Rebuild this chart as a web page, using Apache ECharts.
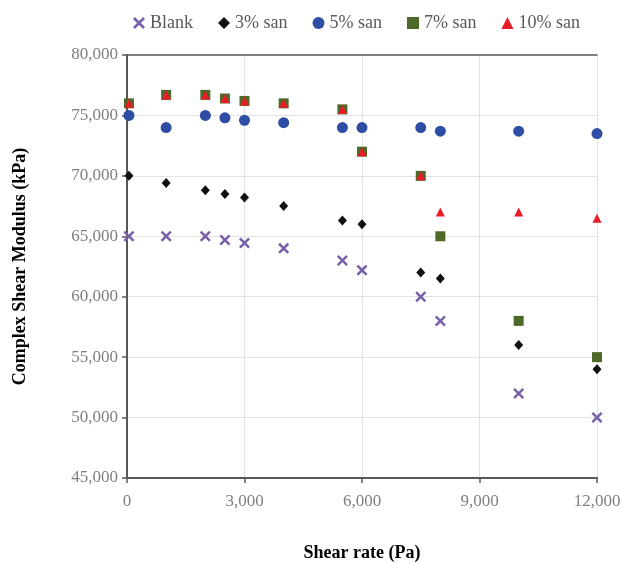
<!DOCTYPE html>
<html><head><meta charset="utf-8">
<script src="https://cdn.jsdelivr.net/npm/echarts@6/dist/echarts.min.js"></script>
<style>html,body{margin:0;padding:0;background:#fff}#c{width:622px;height:563px}</style>
</head><body><div id="c"></div>
<script>
var shearRate = [50, 1000, 2000, 2500, 3000, 4000, 5500, 6000, 7500, 8000, 10000, 12000];
var blank   = [65000, 65000, 65000, 64700, 64450, 64000, 63000, 62200, 60000, 58000, 52000, 50000];
var san3    = [70000, 69400, 68800, 68500, 68200, 67500, 66300, 66000, 62000, 61500, 56000, 54000];
var san5    = [75000, 74000, 75000, 74800, 74600, 74400, 74000, 74000, 74000, 73700, 73700, 73500];
var san7    = [76000, 76700, 76700, 76400, 76200, 76000, 75500, 72000, 70000, 65000, 58000, 55000];
var san10   = [76000, 76700, 76700, 76400, 76200, 76000, 75500, 72000, 70000, 67000, 67000, 66500];
var seriesNames = ['Blank', '3% san', '5% san', '7% san', '10% san'];
var xTicks = [0, 3000, 6000, 9000, 12000];
var yTicks = [45000, 50000, 55000, 60000, 65000, 70000, 75000, 80000];

function pairs(ys){ return shearRate.map(function(x,i){ return [x, ys[i]]; }); }
var FONT = 'Liberation Serif';
var xPath = 'path://M0,1.6L1.6,0L5,3.4L8.4,0L10,1.6L6.6,5L10,8.4L8.4,10L5,6.6L1.6,10L0,8.4L3.4,5Z';
var fmt = function(v){ return Number(v).toLocaleString('en-US'); };
var AX = '#595959';

var chart = echarts.init(document.getElementById('c'));
chart.setOption({
  animation: false,
  legend: {
    top: 9, left: 128,
    itemGap: 25, itemWidth: 12, itemHeight: 12,
    textStyle: {fontFamily: FONT, fontSize: 18, color: '#595959'},
    data: seriesNames
  },
  grid: {left: 127, right: 25, top: 55, bottom: 85, outerBoundsMode: 'none', containLabel: false},
  xAxis: [{
    type: 'value', min: xTicks[0], max: xTicks[xTicks.length-1], interval: 3000,
    name: 'Shear rate (Pa)', nameLocation: 'middle', nameGap: 66,
    nameTextStyle: {fontFamily: FONT, fontSize: 18, fontWeight: 'bold', color: '#000'},
    axisLine: {lineStyle: {color: AX, width: 2}},
    axisTick: {show: true, length: 5, lineStyle: {color: AX, width: 1.5}},
    axisLabel: {fontFamily: FONT, fontSize: 17, color: '#7f7f7f', margin: 15, formatter: fmt},
    splitLine: {show: true, lineStyle: {color: '#e2e2e2', width: 1}}
  }, {
    type: 'value', position: 'top', min: xTicks[0], max: xTicks[xTicks.length-1], interval: 3000,
    axisLine: {show: true, lineStyle: {color: AX, width: 1.5}},
    axisTick: {show: false}, axisLabel: {show: false}, splitLine: {show: false}
  }],
  yAxis: [{
    type: 'value', min: yTicks[0], max: yTicks[yTicks.length-1], interval: 5000,
    name: 'Complex Shear Modulus (kPa)', nameLocation: 'middle', nameGap: 98,
    nameTextStyle: {fontFamily: FONT, fontSize: 18, fontWeight: 'bold', color: '#000'},
    axisLine: {lineStyle: {color: AX, width: 2}},
    axisTick: {show: true, length: 5, lineStyle: {color: AX, width: 1.5}},
    axisLabel: {fontFamily: FONT, fontSize: 17, color: '#7f7f7f', margin: 9, formatter: fmt},
    splitLine: {show: true, lineStyle: {color: '#e2e2e2', width: 1}}
  }, {
    type: 'value', position: 'right', min: yTicks[0], max: yTicks[yTicks.length-1], interval: 5000,
    axisLine: {show: true, lineStyle: {color: AX, width: 1.5}},
    axisTick: {show: false}, axisLabel: {show: false}, splitLine: {show: false}
  }],
  series: [
    {name: seriesNames[0], type: 'scatter', symbol: xPath, symbolSize: 11, itemStyle: {color: '#7760a8', opacity: 1}, data: pairs(blank), z: 2},
    {name: seriesNames[1], type: 'scatter', symbol: 'diamond', symbolSize: [9, 10], itemStyle: {color: '#111', opacity: 1}, data: pairs(san3), z: 2},
    {name: seriesNames[2], type: 'scatter', symbol: 'circle', symbolSize: 11, itemStyle: {color: '#2e4da4', opacity: 1}, data: pairs(san5), z: 2},
    {name: seriesNames[3], type: 'scatter', symbol: 'rect', symbolSize: 10, itemStyle: {color: '#4d6828', opacity: 1}, data: pairs(san7), z: 3},
    {name: seriesNames[4], type: 'scatter', symbol: 'triangle', symbolSize: [9, 9], itemStyle: {color: '#e81c24', opacity: 1}, data: pairs(san10), z: 4}
  ]
});
</script></body></html>
